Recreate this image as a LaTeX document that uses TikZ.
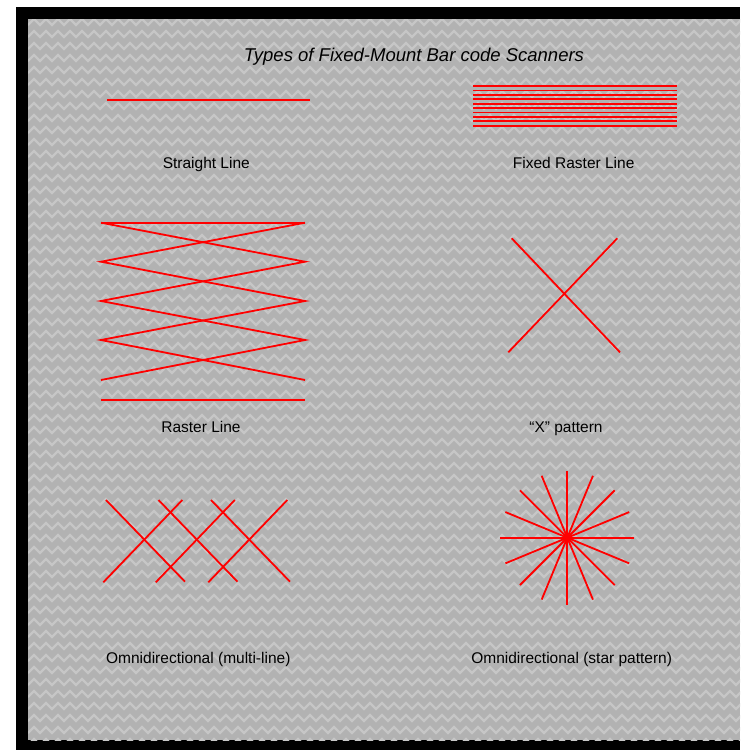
\documentclass[tikz,border=0pt]{standalone}
\usepackage{fontspec}
\setmainfont{Liberation Sans}
\usetikzlibrary{positioning}

\definecolor{bggray}{RGB}{178,178,178}
\definecolor{weave}{RGB}{198,198,198}

\begin{document}
\begin{tikzpicture}[x=1pt,y=-1pt,scan/.style={red,line width=1.8pt},
    lbl/.style={anchor=base,font=\fontsize{15.5}{18}\selectfont}]

        \useasboundingbox (0,0) rectangle (740,750);
        \fill[black] (16,7) rectangle (740,750);
        \fill[bggray] (28,19) rectangle (740,740);
        \begin{scope}
            \clip (28,19) rectangle (740,740);
            \draw[weave,line width=2.2pt]
                \foreach \r in {25,37,...,745} {(28,\r) \foreach \c in {1,...,60} {-- ++(6,-6) -- ++(6,6)}};
        \end{scope}

        \node[anchor=base,font=\fontsize{18.5}{22}\selectfont\itshape] (title) at (414,61.7) {Types of Fixed-Mount Bar code Scanners};

        % straight line
        \draw[red,line width=2.8pt] (107,100) -- (310,100);
        \node[lbl] (straight) at (206.3,168.3) {Straight Line};

        % fixed raster
        \foreach \i in {0,...,9}
            \draw[scan] (473,{86+4.4*\i}) -- (677,{86+4.4*\i});
        \node[lbl] (fixed) at (573.7,168.3) {Fixed Raster Line};

        % raster
        \draw[scan] (101,222.7) -- (305,222.7);
        \draw[scan] (101,222.7) -- (305,261.7) -- (101,301) -- (305,340) -- (101,380);
        \draw[scan] (305,222.7) -- (101,261.7) -- (305,301) -- (101,340) -- (305,380);
        \draw[scan] (101,400) -- (305,400);
        \node[lbl] (raster) at (201,432) {Raster Line};

        % X
        \draw[scan] (511.7,238.3) -- (620,352.3);
        \draw[scan] (617.3,238.3) -- (508.3,352.3);
        \node[lbl] (xpat) at (566,432) {“X” pattern};

        % multi-line
        \foreach \dx in {0,52.5,105} {
            \draw[scan] (106+\dx,500) -- (185+\dx,581.7);
            \draw[scan] (103.3+\dx,582.3) -- (182.3+\dx,500);
        }
        \node[lbl] (multi) at (198.3,663.3) {Omnidirectional (multi-line)};

        % star
        \coordinate (hub) at (567.3,537.7);
        \foreach \a in {0,22.5,...,157.5}
            \draw[scan] (hub) ++(\a:67) -- ++({\a+180}:134);
        \node[lbl] (star) at (571.7,663.3) {Omnidirectional (star pattern)};
\end{tikzpicture}
\end{document}
